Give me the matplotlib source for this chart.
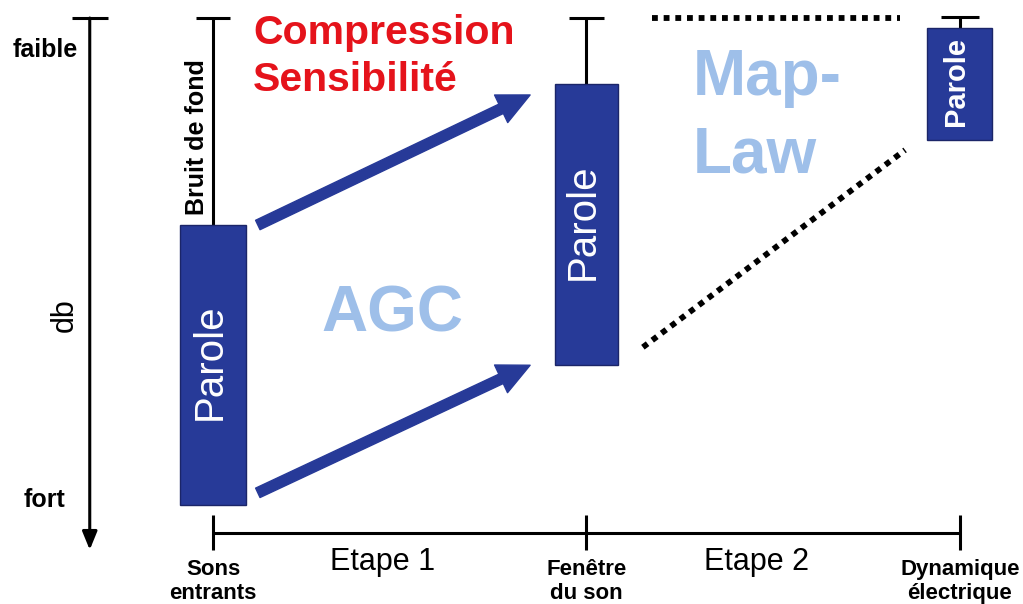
import matplotlib.pyplot as plt

plt.rcParams['font.family'] = ['Liberation Sans', 'DejaVu Sans']

# stages along the bottom axis
stages = ["Sons\nentrants", "Fenêtre\ndu son", "Dynamique\nélectrique"]
steps = ["Etape 1", "Etape 2"]
stage_x = [0, 1, 2]

# level scale: 0 = faible (top), 100 = fort (bottom)
noise_top = [0.0, 0.0, -0.2]
parole_top = [42.5, 13.6, 2.1]
parole_bottom = [100.0, 71.3, 25.0]

# AGC arrows (start level -> end level)
agc_upper = [42.5, 15.8]
agc_lower = [97.5, 71.3]
# Map-Law dotted guides
maplaw_top = [0.0, 0.0]
maplaw_low = [67.6, 27.1]

BLUE = "#273a98"
LIGHT = "#9ebfe9"
RED = "#e5131b"

fig = plt.figure(figsize=(10.23, 6.04), dpi=100)
ax = fig.add_axes([0, 0, 1, 1])
ax.set_xlim(-0.5703, 2.1687)
ax.set_ylim(120.33, -3.70)
ax.axis("off")

# left level axis (faible -> fort)
ax.annotate("", xy=(-0.33, 109.2), xytext=(-0.33, 0),
            arrowprops=dict(arrowstyle="-|>,head_length=1.1,head_width=0.45",
                            color="black", lw=2.2, shrinkA=0, shrinkB=0))
ax.hlines(0, -0.378, -0.280, color="black", lw=2.2)
ax.text(-0.450, 6.6, "faible", ha="center", va="center", fontsize=18, fontweight="bold")
ax.text(-0.450, 99.0, "fort", ha="center", va="center", fontsize=18, fontweight="bold")
ax.text(-0.396, 61.0, "db", ha="center", va="center", fontsize=22, rotation=90)

# bottom stage axis
ax.hlines(105.7, stage_x[0], stage_x[-1], color="black", lw=2.2)
ax.vlines(stage_x, 102.0, 109.3, color="black", lw=2.2)
for x, lab in zip(stage_x, stages):
    ax.text(x, 115.7, lab, ha="center", va="center", fontsize=16,
            fontweight="bold", linespacing=1.15)
for i, lab in enumerate(steps):
    ax.text(stage_x[i] + 0.455, 111.8, lab, ha="center", va="center", fontsize=22)

# background noise whiskers
caps = [0.046, 0.048, 0.050]
for x, t, b, c in zip(stage_x, noise_top, parole_top, caps):
    ax.vlines(x, t, b, color="black", lw=2.2, zorder=1)
    ax.hlines(t, x - c, x + c, color="black", lw=2.2, zorder=1)

# speech bars
widths = [0.177, 0.170, 0.174]
heights = [b - t for t, b in zip(parole_top, parole_bottom)]
ax.bar(stage_x, heights, bottom=parole_top, width=widths, color=BLUE,
       edgecolor="#1b2568", lw=1, zorder=2)
sizes = [29, 29, 21]
weights = ["normal", "normal", "bold"]
for x, t, b, s, w in zip(stage_x, parole_top, parole_bottom, sizes, weights):
    ax.text(x - 0.01, (t + b) / 2 - 0.6, "Parole", ha="center", va="center", rotation=90,
            color="white", fontsize=s, fontweight=w, zorder=3)

ax.text(-0.043, 24.5, "Bruit de fond", ha="center", va="center", rotation=90,
        fontsize=18, fontweight="bold")

# AGC arrows
style = "simple,head_length=1.05,head_width=1.0,tail_width=0.34"
for lv in (agc_upper, agc_lower):
    ax.annotate("", xy=(0.849, lv[1]), xytext=(0.12, lv[0]),
                arrowprops=dict(arrowstyle=style, color=BLUE, mutation_scale=22,
                                shrinkA=0, shrinkB=0))

# Map-Law dotted guides
ax.plot([1.175, 1.84], maplaw_top, color="black", lw=4.2, ls=(0, (1, 1)))
ax.plot([1.151, 1.853], maplaw_low, color="black", lw=4.2, ls=(0, (1, 1)))

ax.text(0.107, 7.8, "Compression\nSensibilité", ha="left", va="center", color=RED,
        fontsize=29.5, fontweight="bold", linespacing=1.3)
ax.text(0.479, 60.8, "AGC", ha="center", va="center", color=LIGHT,
        fontsize=46, fontweight="bold")
ax.text(1.285, 20.3, "Map-\nLaw", ha="left", va="center", color=LIGHT,
        fontsize=46, fontweight="bold", linespacing=1.38)

fig.savefig("out.png", dpi=100)
